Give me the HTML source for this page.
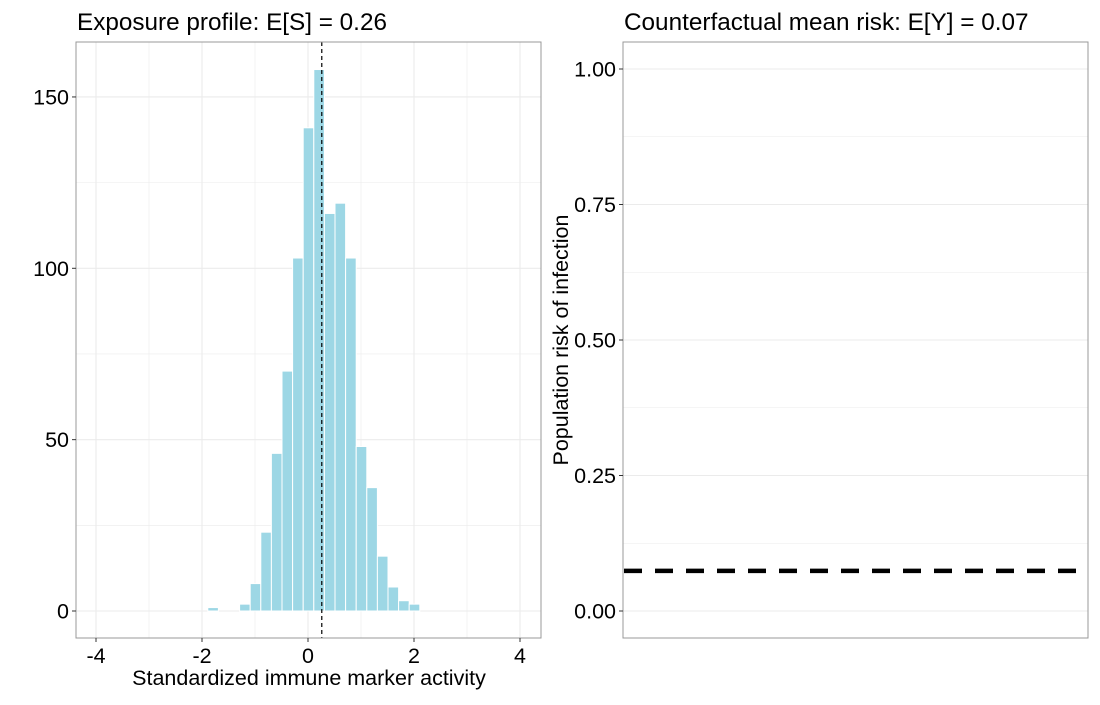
<!DOCTYPE html>
<html><head><meta charset="utf-8"><style>
body{margin:0;background:#fff;font-family:"Liberation Sans",sans-serif}
text{font-family:"Liberation Sans",sans-serif}
</style></head><body>
<svg id="c" width="1100" height="700" xmlns="http://www.w3.org/2000/svg"></svg>
<script>
const binStarts=[-1.9,-1.7,-1.5,-1.3,-1.1,-0.9,-0.7,-0.5,-0.3,-0.1,0.1,0.3,0.5,0.7,0.9,1.1,1.3,1.5,1.7,1.9];
const counts=[1,0,0,2,8,23,46,70,103,141,158,116,119,103,48,36,16,7,3,2];
const binWidth=0.2;
const meanS=0.26;
const meanY=0.074;
const xTicks=[-4,-2,0,2,4];
const yTicksL=[0,50,100,150];
const yTicksR=[0,0.25,0.5,0.75,1.0];
const yTickLabelsR=["0.00","0.25","0.50","0.75","1.00"];

const svg=document.getElementById('c');
const NS="http://www.w3.org/2000/svg";
function el(t,a,txt){const e=document.createElementNS(NS,t);for(const k in a)e.setAttribute(k,a[k]);if(txt!==undefined)e.textContent=txt;svg.appendChild(e);return e;}
const L={x0:76,x1:541,y0:42,y1:638};
const xL=v=>308+v*53;
const yL=v=>611-v*3.427;
const R={x0:623,x1:1088,y0:42,y1:638};
const yR=v=>611-v*542;
const grid="#ebebeb";
const FS=21.5;
for(let v=-4;v<=4;v++){let g=el('line',{x1:xL(v),x2:xL(v),y1:L.y0,y2:L.y1,stroke:grid,'stroke-width':v%2?0.6:1.1});
}
for(let v=0;v<=175;v+=25){if(yL(v)<L.y0)continue;let g=el('line',{x1:L.x0,x2:L.x1,y1:yL(v),y2:yL(v),stroke:grid,'stroke-width':v%50?0.6:1.1});
}
binStarts.forEach((s,i)=>{if(!counts[i])return;const r=el('rect',{x:xL(s)+0.5,y:yL(counts[i]),width:binWidth*53,height:yL(0)-yL(counts[i]),fill:'#9dd7e5',stroke:'#fff','stroke-width':1});
});
let m=el('line',{x1:xL(meanS),x2:xL(meanS),y1:L.y0,y2:L.y1,stroke:'#000','stroke-width':1.2,'stroke-dasharray':'4,3'});

let f=el('rect',{x:L.x0,y:L.y0,width:L.x1-L.x0,height:L.y1-L.y0,fill:'none',stroke:'#999','stroke-width':1});

xTicks.forEach(v=>{el('line',{x1:xL(v),x2:xL(v),y1:L.y1,y2:L.y1+4,stroke:'#333'});
let t=el('text',{x:xL(v),y:663,'font-size':FS,'text-anchor':'middle',fill:'#000'},v<0?'-'+(-v):v);
});
yTicksL.forEach(v=>{el('line',{x1:L.x0-4,x2:L.x0,y1:yL(v),y2:yL(v),stroke:'#333'});
let t=el('text',{x:L.x0-7,y:yL(v)+7.5,'font-size':FS,'text-anchor':'end',fill:'#000'},v);
});
let xt=el('text',{x:309,y:685,'font-size':FS,'text-anchor':'middle',fill:'#000'},'Standardized immune marker activity');

let t1=el('text',{x:77,y:30,'font-size':24.3,fill:'#000'},'Exposure profile: E[S] = 0.26');

for(let v=0;v<=1.0001;v+=0.125){let g=el('line',{x1:R.x0,x2:R.x1,y1:yR(v),y2:yR(v),stroke:grid,'stroke-width':(Math.round(v*8)%2)?0.6:1.1});
}
let ml=el('line',{x1:R.x0+1,x2:R.x1-1,y1:yR(meanY),y2:yR(meanY),stroke:'#000','stroke-width':4.5,'stroke-dasharray':'18,13'});

let f2=el('rect',{x:R.x0,y:R.y0,width:R.x1-R.x0,height:R.y1-R.y0,fill:'none',stroke:'#999','stroke-width':1});

yTicksR.forEach((v,i)=>{el('line',{x1:R.x0-4,x2:R.x0,y1:yR(v),y2:yR(v),stroke:'#333'});
let t=el('text',{x:R.x0-7,y:yR(v)+7.5,'font-size':FS,'text-anchor':'end',fill:'#000'},yTickLabelsR[i]);
});
let yt=el('text',{x:568,y:340,'font-size':FS,'text-anchor':'middle',fill:'#000',transform:'rotate(-90 568 340)'},'Population risk of infection');

let t2=el('text',{x:624,y:30,'font-size':24.3,fill:'#000'},'Counterfactual mean risk: E[Y] = 0.07');

</script>
</body></html>
